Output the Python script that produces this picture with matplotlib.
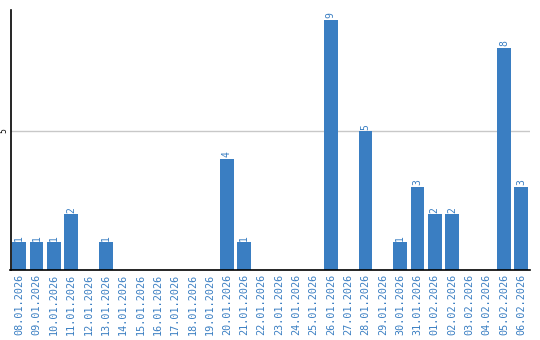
import matplotlib
matplotlib.use("Agg")
import matplotlib.pyplot as plt

dates = ["08.01.2026", "09.01.2026", "10.01.2026", "11.01.2026", "12.01.2026",
         "13.01.2026", "14.01.2026", "15.01.2026", "16.01.2026", "17.01.2026",
         "18.01.2026", "19.01.2026", "20.01.2026", "21.01.2026", "22.01.2026",
         "23.01.2026", "24.01.2026", "25.01.2026", "26.01.2026", "27.01.2026",
         "28.01.2026", "29.01.2026", "30.01.2026", "31.01.2026", "01.02.2026",
         "02.02.2026", "03.02.2026", "04.02.2026", "05.02.2026", "06.02.2026"]
values = [1, 1, 1, 2, 0, 1, 0, 0, 0, 0, 0, 0, 4, 1, 0, 0, 0, 0, 9, 0, 5, 0,
          1, 3, 2, 2, 0, 0, 8, 3]
yticks = [5]

blue = "#3a7ec2"
fig = plt.figure(figsize=(5.4, 3.4), dpi=100)
ax = fig.add_axes([10.5/540, 70/340, 519.5/540, 260/340])
x = list(range(len(dates)))
ax.bar(x, values, width=0.8, color=blue, zorder=2)
for xi, v in zip(x, values):
    if v > 0:
        ax.text(xi, v + 0.05, str(v), rotation=90, ha="center", va="bottom",
                color=blue, fontsize=7, family="DejaVu Sans Mono")
ax.set_xlim(-0.5, len(dates) - 0.5)
ax.set_ylim(0, 9.35)
ax.set_yticks(yticks)
ax.set_yticklabels([str(t) for t in yticks], rotation=90, va="center",
                   fontsize=5.5)
ax.grid(axis="y", color="#c8c8c8", linewidth=1, zorder=0)
ax.set_xticks(x)
ax.set_xticklabels(dates, rotation=90, color=blue, fontsize=7.3,
                   family="DejaVu Sans Mono")
ax.tick_params(axis="x", length=0, pad=3)
ax.tick_params(axis="y", length=0, pad=1.5)
for s in ["top", "right"]:
    ax.spines[s].set_visible(False)
ax.spines["left"].set_color("black")
ax.spines["bottom"].set_color("black")
ax.spines["left"].set_linewidth(1.2)
ax.spines["bottom"].set_linewidth(1.2)
fig.savefig("out.png", dpi=100)
